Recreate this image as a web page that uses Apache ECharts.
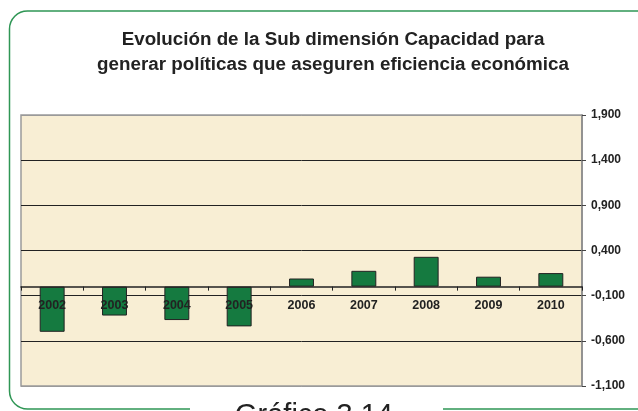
<!DOCTYPE html>
<html>
<head>
<meta charset="utf-8">
<script src="https://cdn.jsdelivr.net/npm/echarts@6/dist/echarts.min.js"></script>
<style>
  html, body { margin: 0; padding: 0; background: #fff; }
  #chart { width: 638px; height: 411px; }
</style>
</head>
<body>
<div id="chart"></div>
<script>
// data
var years = ['2002', '2003', '2004', '2005', '2006', '2007', '2008', '2009', '2010'];
var values = [-0.50, -0.32, -0.37, -0.44, 0.09, 0.175, 0.33, 0.11, 0.15];
var yTicks = [-1.1, -0.6, -0.1, 0.4, 0.9, 1.4, 1.9];

var chart = echarts.init(document.getElementById('chart'));

function fmt(v) {
  // 1,900 style (comma decimal, three places)
  return v.toFixed(3).replace('.', ',');
}

var option = {
  animation: false,
  backgroundColor: '#fff',
  title: {
    text: 'Evolución de la Sub dimensión Capacidad para\ngenerar políticas que aseguren eficiencia económica',
    left: 328,
    top: 22,
    textAlign: 'center',
    textStyle: {
      fontFamily: 'Liberation Sans',
      fontSize: 18.8,
      fontWeight: 'bold',
      lineHeight: 25.5,
      color: '#222'
    }
  },
  grid: {
    left: 21,
    right: 56,
    top: 115,
    bottom: 25,
    show: true,
    backgroundColor: '#f8eed4',
    borderColor: '#9a9a9a',
    borderWidth: 1.5
  },
  xAxis: {
    type: 'category',
    data: years,
    position: 'bottom',
    axisLine: { onZero: false, lineStyle: { color: '#222', width: 1.5 } },
    axisTick: { show: true, length: 4, inside: false, lineStyle: { color: '#222' } },
    axisLabel: {
      margin: 12,
      fontFamily: 'Liberation Sans',
      fontSize: 12.5,
      fontWeight: 'bold',
      color: '#222'
    },
    z: 5
  },
  yAxis: {
    type: 'value',
    position: 'right',
    min: -1.1,
    max: 1.9,
    axisLine: { show: true, lineStyle: { color: '#888', width: 1.5 } },
    axisTick: { show: true, length: 4, lineStyle: { color: '#444' }, customValues: yTicks },
    axisLabel: {
      margin: 9,
      fontFamily: 'Liberation Sans',
      fontSize: 12,
      fontWeight: 'bold',
      color: '#222',
      customValues: yTicks,
      formatter: fmt
    },
    splitLine: {
      show: true,
      lineStyle: {
        color: ['#9a9a9a', '#222', '#222', '#222', '#222', '#222', '#9a9a9a'],
        width: 1
      }
    }
  },
  series: [{
    type: 'bar',
    data: values,
    barWidth: '40%',
    itemStyle: {
      color: '#157a40',
      borderColor: '#222',
      borderWidth: 1
    }
  }],
  graphic: [
    {
      type: 'rect',
      shape: { x: 9.5, y: 11, width: 660, height: 398, r: 18 },
      style: { fill: 'none', stroke: '#2f9655', lineWidth: 1.5 },
      silent: true
    },
    {
      type: 'rect',
      shape: { x: 190, y: 400, width: 253, height: 12 },
      style: { fill: '#fff' },
      silent: true,
      z: 10
    },
    {
      type: 'text',
      left: 235,
      top: 401,
      style: {
        text: 'Gráfico 3.14',
        fontFamily: 'Liberation Sans',
        fontSize: 29,
        fill: '#222'
      },
      z: 11
    }
  ]
};

chart.setOption(option);

// move the category axis up to the zero line (labels travel with it)
var zeroY = chart.convertToPixel({ yAxisIndex: 0 }, 0);
var gridBottom = 411 - 25;
chart.setOption({ xAxis: { offset: zeroY - gridBottom } });
</script>
</body>
</html>
